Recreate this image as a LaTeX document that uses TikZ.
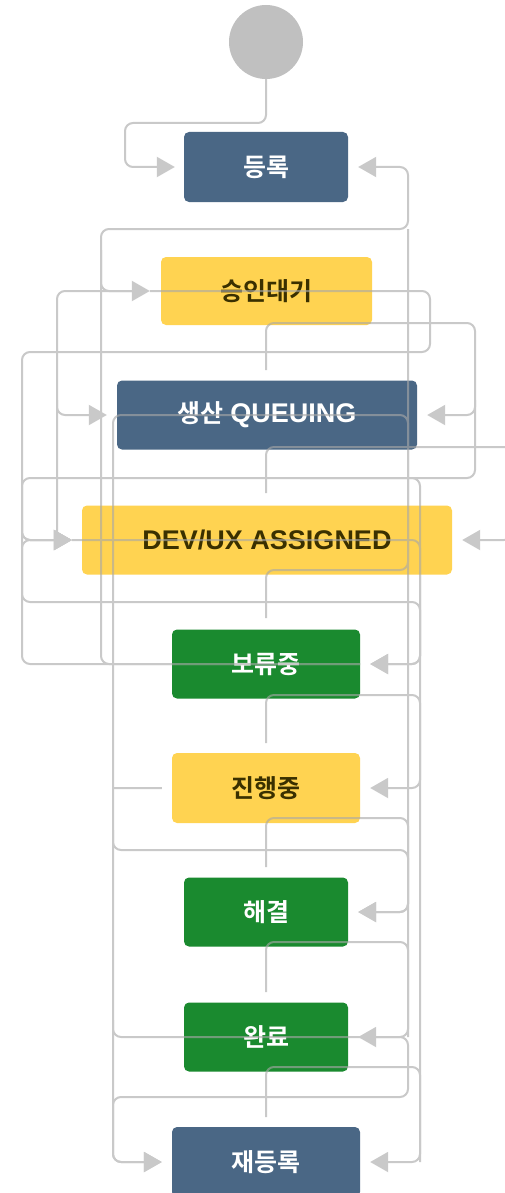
\documentclass[tikz,border=0pt]{standalone}
\usepackage{fontspec}
\setmainfont{Liberation Sans}
\newfontfamily\kr{Noto Sans CJK KR}[BoldFont={Noto Sans CJK KR Bold}]
\usetikzlibrary{arrows.meta}
\definecolor{stblue}{HTML}{4A6785}
\definecolor{styellow}{HTML}{FFD351}
\definecolor{stgreen}{HTML}{1A8A2F}
\definecolor{ytext}{HTML}{3A3000}
\definecolor{wire}{HTML}{A8A8A8}
\definecolor{startgray}{HTML}{C0C0C0}
\begin{document}
\begin{tikzpicture}[x=1pt,y=-1pt,
  status/.style={rounded corners=5pt, inner sep=0pt, font=\fontsize{25}{28}\selectfont\bfseries},
  bluebox/.style={status, fill=stblue, text=white},
  yellowbox/.style={status, fill=styellow, text=ytext},
  greenbox/.style={status, fill=stgreen, text=white},
  wirepath/.style={draw=wire, line width=2pt, rounded corners=8pt},
  tr/.style={wirepath, -{Triangle[length=18pt,width=20pt]}}
]
\useasboundingbox (0,0) rectangle (504,1193);
\fill[white] (0,0) rectangle (504,1193);

\node[circle, fill=startgray, minimum size=74pt, inner sep=0pt] (start) at (266,42) {};
\node[bluebox, minimum width=164pt, minimum height=70pt] (reg) at (266,167) {\kr 등록};
\node[yellowbox, minimum width=211pt, minimum height=68pt] (appr) at (266.5,291) {\kr 승인대기};
\node[bluebox, minimum width=300pt, minimum height=69pt] (prod) at (267,415) {{\kr 생산} {\fontsize{27}{28}\selectfont QUEUING}};
\node[yellowbox, minimum width=370pt, minimum height=69pt] (dev) at (267,540) {\fontsize{27}{28}\selectfont DEV/UX ASSIGNED};
\node[greenbox, minimum width=188pt, minimum height=69pt] (hold) at (266,664) {\kr 보류중};
\node[yellowbox, minimum width=188pt, minimum height=70pt] (prog) at (266,788) {\kr 진행중};
\node[greenbox, minimum width=164pt, minimum height=69pt] (res) at (266,912) {\kr 해결};
\node[greenbox, minimum width=164pt, minimum height=69pt] (done) at (266,1037) {\kr 완료};
\node[bluebox, minimum width=188pt, minimum height=70pt] (rereg) at (266,1162) {\kr 재등록};

\begin{scope}[transparency group, opacity=0.62]
% buses
\draw[wirepath] (408,229) -- (408,1037);
\draw[wirepath] (300,478) -- (420,478) -- (420,1162);
% start -> reg
\draw[tr] (start.south) -- (266,123) -- (125,123) -- (125,167) -- ([xshift=-9pt]reg.west);
% vertical stubs from each status
\draw[tr] (266,370) -- (266,323) -- (475,323) -- (475,415) -- ([xshift=10pt]prod.east);
\draw[tr] (266,493) -- (266,447) -- (512,447) -- (512,540) -- ([xshift=10pt]dev.east);
\draw[tr] (266,618) -- (266,570) -- (408,570) -- (408,415) -- (113,415) -- (113,1162) -- ([xshift=-10pt]rereg.west);
\draw[tr] (266,743) -- (266,695) -- (420,695) -- (420,788) -- ([xshift=10pt]prog.east);
\draw[tr] (266,867) -- (266,818) -- (408,818) -- (408,912) -- ([xshift=10pt]res.east);
\draw[tr] (266,992) -- (266,942) -- (408,942) -- (408,1037) -- ([xshift=10pt]done.east);
\draw[tr] (266,1117) -- (266,1067) -- (420,1067) -- (420,1162) -- ([xshift=10pt]rereg.east);
% left side loops
\draw[tr] (hold.east) -- (101,664) -- (101,229) -- (408,229) -- (408,167) -- ([xshift=10pt]reg.east);
\draw[tr] (hold.east) -- (22,664) -- (22,540) -- ([xshift=-10pt]dev.west);
\draw[tr] ([xshift=-11pt]appr.west) -- (430,291) -- (430,352) -- (22,352) -- (22,540) -- ([xshift=-10pt]dev.west);
\draw[tr] (101,250) -- (101,291) -- ([xshift=-11pt]appr.west);
\draw[tr] (140,291) -- (57,291) -- (57,415) -- ([xshift=-10pt]prod.west);
\draw[tr] (57,400) -- (57,540) -- ([xshift=-10pt]dev.west);
\draw[tr] (475,400) -- (475,478) -- (22,478) -- (22,540) -- ([xshift=-10pt]dev.west);
\draw[tr] (22,520) -- (22,602) -- (420,602) -- (420,664) -- ([xshift=10pt]hold.east);
\draw[tr] ([xshift=-10pt]dev.west) -- (420,540) -- (420,664) -- ([xshift=10pt]hold.east);
% lower loops
\draw[tr] (113,830) -- (113,850) -- (408,850) -- (408,912) -- ([xshift=10pt]res.east);
\draw[tr] (113,1020) -- (113,1037) -- (408,1037) -- (408,1097) -- (113,1097) -- (113,1162) -- ([xshift=-10pt]rereg.west);
\draw[wirepath] ([xshift=-10pt]prog.west) -- (113,788);
\end{scope}
\end{tikzpicture}
\end{document}
